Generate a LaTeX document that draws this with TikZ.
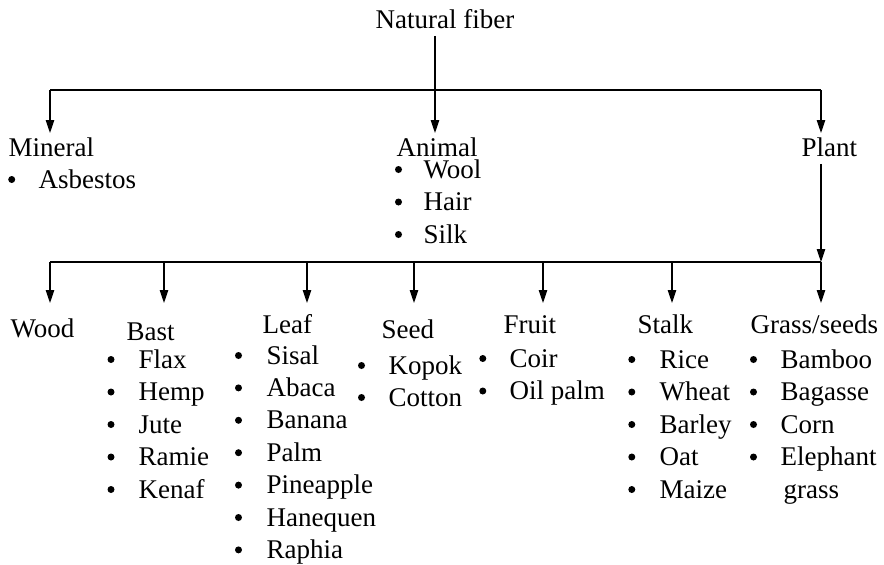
\documentclass[tikz,border=0pt]{standalone}
\usepackage{fontspec}
\setmainfont{Liberation Serif}
\usetikzlibrary{arrows.meta}

\begin{document}
\begin{tikzpicture}
[x=1pt, y=-1pt, line width=1.1pt,
font=\fontsize{27}{32.5}\selectfont,
every node/.style={anchor=base west, inner sep=0 pt},
dot/.style={circle, fill, minimum size=7pt, anchor=center},
arr/.style={-{Triangle[length=13pt, width=8.5pt]}}
]
\useasboundingbox (0,0) rectangle (884,565);

% headings
\node (root) at (375,28) {Natural fiber};
\node (mineral) at (8,156) {Mineral};
\node (animal) at (396,156) {Animal};
\node (plant) at (801,156) {Plant};

\node (wood) at (10,337) {Wood};
\node (bast) at (126,340) {Bast};
\node (leaf) at (262,333) {Leaf};
\node (seed) at (381,338) {Seed};
\node (fruit) at (503,333) {Fruit};
\node (stalk) at (637,333) {Stalk};
\node (grass) at (750,333) {Grass/seeds};

% bus lines
\path
coordinate (top) at (435,90)
coordinate (mx) at (50,90)
coordinate (px) at (821,90)
coordinate (wx) at (50,262)
coordinate (low) at (821,262)
coordinate (tip1) at (0,133)
coordinate (tip2) at (0,303)
;

\draw[arr, shorten <=7pt] (root.south -| top) -- (top |- tip1);
\draw (mx) -- (px);
\draw[arr] (mx) -- (mx |- tip1);
\draw[arr] (px) -- (px |- tip1);

\draw[arr, shorten <=7pt] (plant.south -| px) -- (low);
\draw (wx) -- (low);
\foreach \x/\n in {50/wood, 164/bast, 307/leaf, 414/seed, 543/fruit, 672/stalk, 821/grass}
{
  \coordinate (b\n) at (\x,262);
  \draw[arr] (b\n) -- (b\n |- tip2);
}

% item lists
\node[dot] (mineraldot1) at (11.7,179.5) {};
\node (mineral1) at (38,188) {Asbestos};

\foreach \t [count=\i] in {Wool, Hair, Silk}
{
  \node[dot] (animaldot\i) at (398.5,{169.5+32.5*(\i-1)}) {};
  \node (animal\i) at (423,{178+32.5*(\i-1)}) {\t};
}

\foreach \t [count=\i] in {Flax, Hemp, Jute, Ramie, Kenaf}
{
  \node[dot] (bastdot\i) at (111,{359.5+32.5*(\i-1)}) {};
  \node (bast\i) at (138,{368+32.5*(\i-1)}) {\t};
}

\foreach \t [count=\i] in {Sisal, Abaca, Banana, Palm, Pineapple, Hanequen, Raphia}
{
  \node[dot] (leafdot\i) at (238.5,{355.5+32.4*(\i-1)}) {};
  \node (leaf\i) at (266,{364+32.4*(\i-1)}) {\t};
}

\foreach \t [count=\i] in {Kopok, Cotton}
{
  \node[dot] (seeddot\i) at (361.5,{365.5+32*(\i-1)}) {};
  \node (seed\i) at (388,{374+32*(\i-1)}) {\t};
}

\foreach \t [count=\i] in {Coir, Oil palm}
{
  \node[dot] (fruitdot\i) at (482.8,{358.5+32.5*(\i-1)}) {};
  \node (fruit\i) at (509,{367+32.5*(\i-1)}) {\t};
}

\foreach \t [count=\i] in {Rice, Wheat, Barley, Oat, Maize}
{
  \node[dot] (stalkdot\i) at (631.8,{359.5+32.5*(\i-1)}) {};
  \node (stalk\i) at (659,{368+32.5*(\i-1)}) {\t};
}

\foreach \t [count=\i] in {Bamboo, Bagasse, Corn, Elephant}
{
  \node[dot] (grassdot\i) at (753.5,{359.5+32.5*(\i-1)}) {};
  \node (grass\i) at (780,{368+32.5*(\i-1)}) {\t};
}
\node (grass5) at (783,498) {grass};

\end{tikzpicture}
\end{document}
